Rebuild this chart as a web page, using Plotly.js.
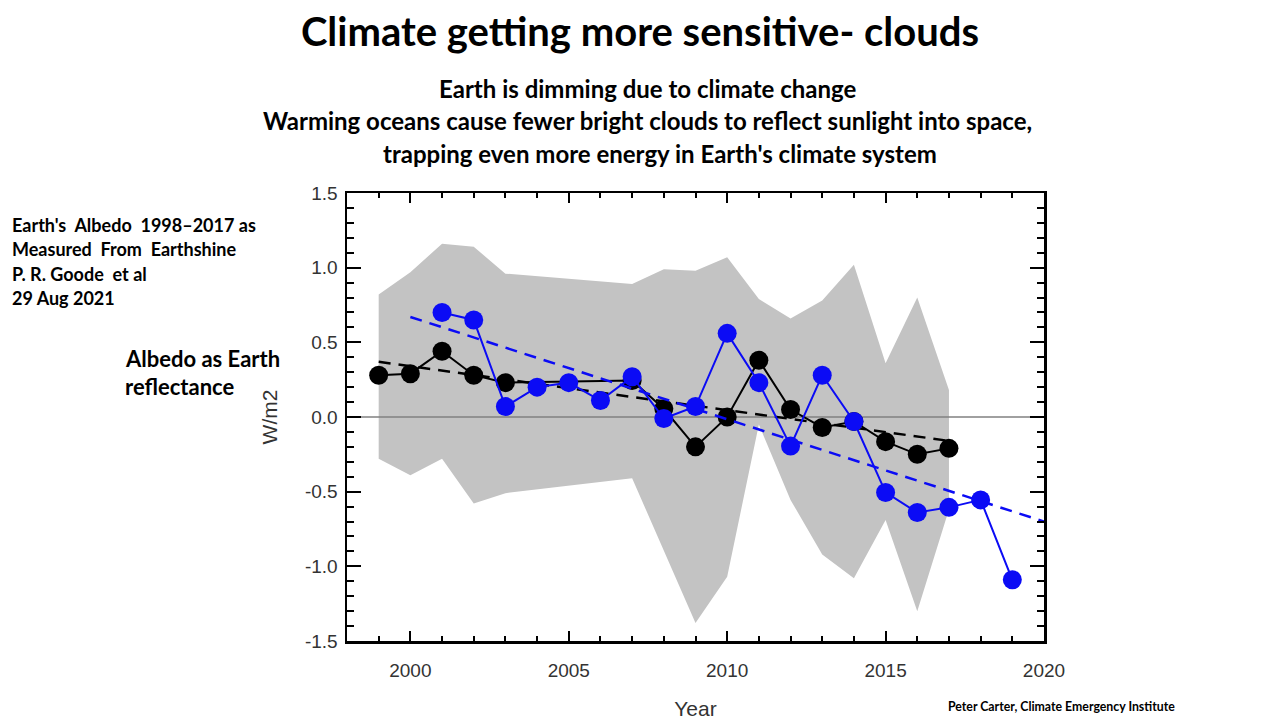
<!DOCTYPE html>
<html>
<head>
<meta charset="utf-8">
<script src="https://cdn.plot.ly/plotly-3.0.1.min.js"></script>
<style>html,body{margin:0;padding:0;background:#fff;}#chart{width:1280px;height:720px;}</style>
</head>
<body>
<div id="chart"></div>
<script>
// ---- Data ----
const blackYears = [1999, 2000, 2001, 2002, 2003, 2007, 2008, 2009, 2010, 2011, 2012, 2013, 2014, 2015, 2016, 2017];
const blackValues = [0.28, 0.29, 0.44, 0.28, 0.23, 0.245, 0.055, -0.20, 0.00, 0.38, 0.05, -0.07, -0.03, -0.165, -0.25, -0.21];

const blueYears = [2001, 2002, 2003, 2004, 2005, 2006, 2007, 2008, 2009, 2010, 2011, 2012, 2013, 2014, 2015, 2016, 2017, 2018, 2019];
const blueValues = [0.70, 0.65, 0.07, 0.20, 0.23, 0.11, 0.27, -0.01, 0.07, 0.56, 0.23, -0.195, 0.28, -0.03, -0.505, -0.64, -0.605, -0.555, -1.09];

const blackTrendYears = [1999, 2017];
const blackTrendValues = [0.37, -0.16];
const blueTrendYears = [2000, 2020];
const blueTrendValues = [0.67, -0.70];

const bandUpperYears = [1999, 2000, 2001, 2002, 2003, 2007, 2008, 2009, 2010, 2011, 2012, 2013, 2014, 2015, 2016, 2017];
const bandUpperValues = [0.82, 0.97, 1.16, 1.14, 0.96, 0.89, 0.99, 0.98, 1.07, 0.79, 0.66, 0.78, 1.02, 0.36, 0.80, 0.18];
const bandLowerYears = [1999, 2000, 2001, 2002, 2003, 2007, 2009, 2010, 2011, 2012, 2013, 2014, 2015, 2016, 2017];
const bandLowerValues = [-0.28, -0.39, -0.28, -0.58, -0.51, -0.41, -1.38, -1.07, -0.05, -0.555, -0.92, -1.08, -0.69, -1.30, -0.62];

const xRange = [1998, 2020];
const yRange = [-1.5, 1.5];
const yTickVals = [-1.5, -1.0, -0.5, 0.0, 0.5, 1.0, 1.5];
const xTickVals = [2000, 2005, 2010, 2015, 2020];

// ---- Layout helpers ----
const W = 1280, H = 720;
const L = 347, R = 1044, T = 193, B = 641;
const px = x => (x - L) / (R - L);
const py = y => (B - y) / (B - T);

const blue = '#0b0bf5';
const band = '#c3c3c3';

const bandX = bandUpperYears.concat(bandLowerYears.slice().reverse());
const bandY = bandUpperValues.concat(bandLowerValues.slice().reverse());

const traces = [
  {x: bandX, y: bandY, type: 'scatter', mode: 'lines', fill: 'toself',
   fillcolor: band, line: {width: 0, color: band}, hoverinfo: 'skip'},
  {x: xRange, y: [0, 0], type: 'scatter', mode: 'lines',
   line: {color: '#808080', width: 1.5}, hoverinfo: 'skip'},
  {x: blackYears, y: blackValues, type: 'scatter', mode: 'lines+markers',
   line: {color: '#000', width: 2}, marker: {color: '#000', size: 19}},
  {x: blackTrendYears, y: blackTrendValues, type: 'scatter', mode: 'lines',
   line: {color: '#000', width: 2.5, dash: '12px,8px'}},
  {x: blueTrendYears, y: blueTrendValues, type: 'scatter', mode: 'lines',
   line: {color: blue, width: 2.5, dash: '12px,8px'}},
  {x: blueYears, y: blueValues, type: 'scatter', mode: 'lines+markers',
   line: {color: blue, width: 2}, marker: {color: blue, size: 19}}
];

const tickFont = {family: 'Liberation Sans, Arial, sans-serif', size: 19, color: '#333'};
const boldFont = 'Lato, "Open Sans", sans-serif';

function ann(text, x, y, size, xanchor, opts) {
  return Object.assign({
    text: text, xref: 'paper', yref: 'paper', x: px(x), y: py(y),
    xanchor: xanchor || 'left', yanchor: 'middle', showarrow: false,
    font: {family: boldFont, size: size, color: '#000', weight: 700}
  }, opts || {});
}

const annotations = [
  ann('Earth is dimming due to climate change', 647, 88, 24, 'center'),
  ann('Warming oceans cause fewer bright clouds to reflect sunlight into space,', 647, 121, 24, 'center'),
  ann("trapping even more energy in Earth's climate system", 660, 153, 24, 'center'),
  ann("Earth's  Albedo  1998–2017 as", 10, 225, 18, 'left'),
  ann('Measured  From  Earthshine', 10, 249, 18, 'left'),
  ann('P. R. Goode  et al', 10, 274, 18, 'left'),
  ann('29 Aug 2021', 10, 298, 18, 'left'),
  ann('Albedo as Earth', 123, 358, 22, 'left'),
  ann('reflectance', 123, 386, 22, 'left'),
  ann('Peter Carter, Climate Emergency Institute', 946, 706, 12.3, 'left')
];

const layout = {
  width: W, height: H,
  paper_bgcolor: '#fff', plot_bgcolor: '#fff',
  showlegend: false,
  margin: {l: L, r: W - R, t: T, b: H - B, pad: 0},
  title: {
    text: 'Climate getting more sensitive- clouds',
    xref: 'container', yref: 'container', x: 0.5, y: 1 - 32 / H,
    xanchor: 'center', yanchor: 'middle',
    font: {family: boldFont, size: 40, color: '#000', weight: 700}
  },
  xaxis: {
    range: xRange, tickvals: xTickVals, ticktext: xTickVals.map(String),
    ticks: 'inside', ticklen: 10, tickwidth: 2, tickcolor: '#000',
    minor: {dtick: 1, tick0: 1998, ticks: 'inside', ticklen: 5, tickwidth: 2, tickcolor: '#000', showgrid: false},
    showline: true, linecolor: '#000', linewidth: 2.5, mirror: 'allticks',
    showgrid: false, zeroline: false,
    tickfont: tickFont, ticklabelstandoff: 11,
    title: {text: 'Year', font: {family: 'Liberation Sans, Arial, sans-serif', size: 21, color: '#333'}, standoff: 24}
  },
  yaxis: {
    range: yRange, tickvals: yTickVals, ticktext: yTickVals.map(v => v.toFixed(1)),
    ticks: 'inside', ticklen: 14, tickwidth: 2, tickcolor: '#000',
    minor: {dtick: 0.1, tick0: 0, ticks: 'inside', ticklen: 7, tickwidth: 2, tickcolor: '#000', showgrid: false},
    showline: true, linecolor: '#000', linewidth: 2.5, mirror: 'allticks',
    showgrid: false, zeroline: false,
    tickfont: tickFont, ticklabelstandoff: 3,
    title: {text: 'W/m2', font: {family: 'Liberation Sans, Arial, sans-serif', size: 21, color: '#333'}, standoff: 22}
  },
  annotations: annotations
};

Plotly.newPlot('chart', traces, layout, {displayModeBar: false, staticPlot: true});
</script>
</body>
</html>
